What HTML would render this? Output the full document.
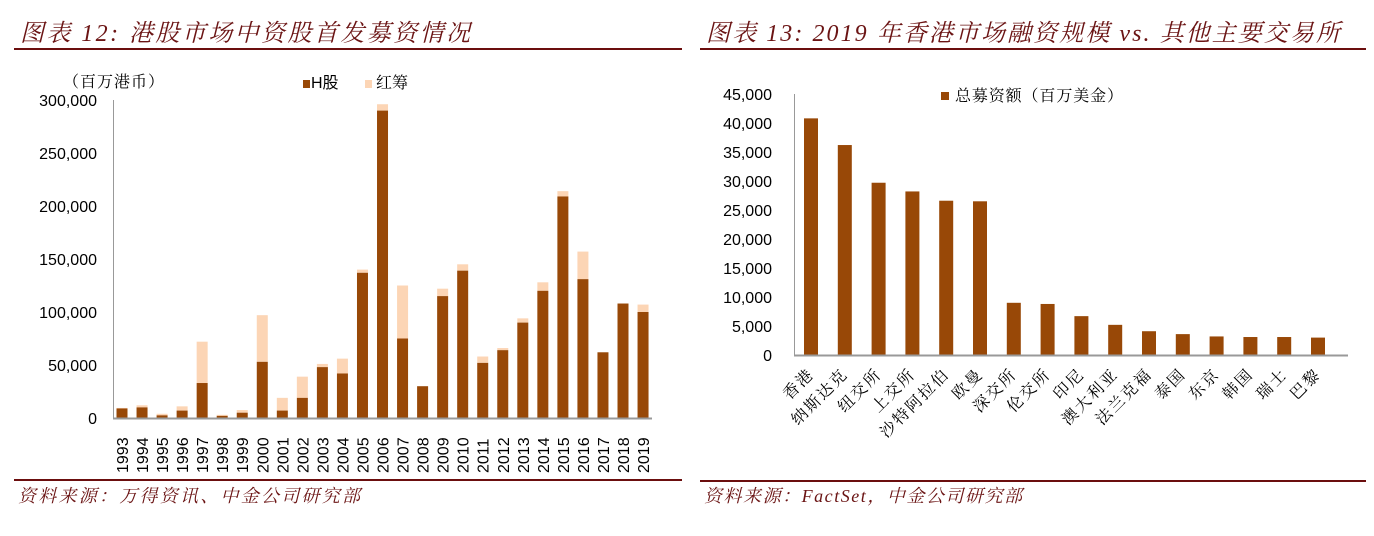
<!DOCTYPE html>
<html><head><meta charset="utf-8">
<style>
body{margin:0;background:#fff;width:1374px;height:536px;overflow:hidden}
svg{display:block}
.t{font-family:"Liberation Serif","Noto Serif CJK SC",serif;font-style:italic;fill:#6b1414;}
.n{font-family:"Liberation Sans",sans-serif;font-size:16px;fill:#000}
.c{font-family:"Liberation Sans","Noto Serif CJK SC",serif;font-size:16px;fill:#000}
</style></head><body>
<svg id="s" width="1374" height="536" xmlns="http://www.w3.org/2000/svg">
<text class="t" x="20" y="41" font-size="24" textLength="450" lengthAdjust="spacing">图表 12:  港股市场中资股首发募资情况</text>
<text class="t" x="706" y="41" font-size="24" textLength="634" lengthAdjust="spacing">图表 13: 2019 年香港市场融资规模 vs.  其他主要交易所</text>
<rect x="14" y="48" width="668" height="2" fill="#6b0e0e"/>
<rect x="700" y="48" width="666" height="2" fill="#6b0e0e"/>
<rect x="14" y="479" width="668" height="2" fill="#6b0e0e"/>
<rect x="700" y="480" width="666" height="2" fill="#6b0e0e"/>
<text class="t" x="18" y="502" font-size="18" textLength="342" lengthAdjust="spacing">资料来源：万得资讯、中金公司研究部</text>
<text class="t" x="704" y="502" font-size="18" textLength="318" lengthAdjust="spacing">资料来源：FactSet，中金公司研究部</text>
<text class="c" x="63" y="87" font-size="13" letter-spacing="1">（百万港币）</text>
<rect x="303" y="80" width="7" height="8" fill="#984807"/>
<text class="c" x="311" y="88" font-size="15" style="font-family:'Liberation Sans','Noto Sans CJK SC',sans-serif">H股</text>
<rect x="365" y="80" width="7" height="8" fill="#fcd5b5"/>
<text class="c" x="376" y="88" font-size="15">红筹</text>
<rect x="941" y="92" width="8" height="8" fill="#984807"/>
<text class="c" x="955" y="101" font-size="14" textLength="168" lengthAdjust="spacing">总募资额（百万美金）</text>
<g id="L"></g><g id="R"></g>
</svg>
<script>
const NS="http://www.w3.org/2000/svg";
function el(p,t,a,txt){const e=document.createElementNS(NS,t);for(const k in a)e.setAttribute(k,a[k]);if(txt!=null)e.textContent=txt;p.appendChild(e);return e;}
const L=document.getElementById('L');
const y0=418,k=318/300000;
for(let i=0;i<=6;i++){const v=i*50000;el(L,'text',{class:'n',x:97,y:y0-v*k+6,'text-anchor':'end'},v?v.toLocaleString('en-US'):'0');}
const H=[9000,10000,2500,7000,33000,2000,5000,53000,7000,19000,48000,42000,137000,290000,75000,30000,115000,139000,52000,64000,90000,120000,209000,131000,62000,108000,100000];
const T=[9500,12000,4000,11000,72000,3000,7500,97000,19000,39000,51000,56000,140000,296000,125000,30000,122000,145000,58000,66000,94000,128000,214000,157000,62000,108000,107000];
for(let i=0;i<27;i++){const cx=122+i*20.04;
el(L,'rect',{x:cx-5.5,y:y0-T[i]*k,width:11,height:(T[i]-H[i])*k,fill:'#fcd5b5'});
el(L,'rect',{x:cx-5.5,y:y0-H[i]*k,width:11,height:H[i]*k,fill:'#984807'});
el(L,'text',{class:'n',transform:`translate(${cx+6},${y0+55}) rotate(-90)`,'font-size':15},1993+i);}
el(L,'line',{x1:113.5,y1:100,x2:113.5,y2:y0,stroke:'#999'});
el(L,'line',{x1:113,y1:y0+.5,x2:652,y2:y0+.5,stroke:'#999','stroke-width':2});
const R=document.getElementById('R');
const r0=355,rk=261/45000;
for(let i=0;i<=9;i++){const v=i*5000;el(R,'text',{class:'n',x:772,y:r0-v*rk+6,'text-anchor':'end'},v?v.toLocaleString('en-US'):'0');}
const V=[40800,36200,29700,28200,26600,26500,9000,8800,6700,5200,4100,3600,3200,3100,3100,3000];
const N=['香港','纳斯达克','纽交所','上交所','沙特阿拉伯','欧曼','深交所','伦交所','印尼','澳大利亚','法兰克福','泰国','东京','韩国','瑞士','巴黎'];
for(let i=0;i<16;i++){const cx=811+i*33.8;
el(R,'rect',{x:cx-7,y:r0-V[i]*rk,width:14,height:V[i]*rk,fill:'#984807'});
el(R,'text',{class:'c',transform:`translate(${cx+4},${r0+20}) rotate(-45)`,'text-anchor':'end','letter-spacing':'2'},N[i]);}
el(R,'line',{x1:794.5,y1:94,x2:794.5,y2:r0,stroke:'#999'});
el(R,'line',{x1:794,y1:r0+.5,x2:1348,y2:r0+.5,stroke:'#999','stroke-width':2});
</script>
</body></html>
